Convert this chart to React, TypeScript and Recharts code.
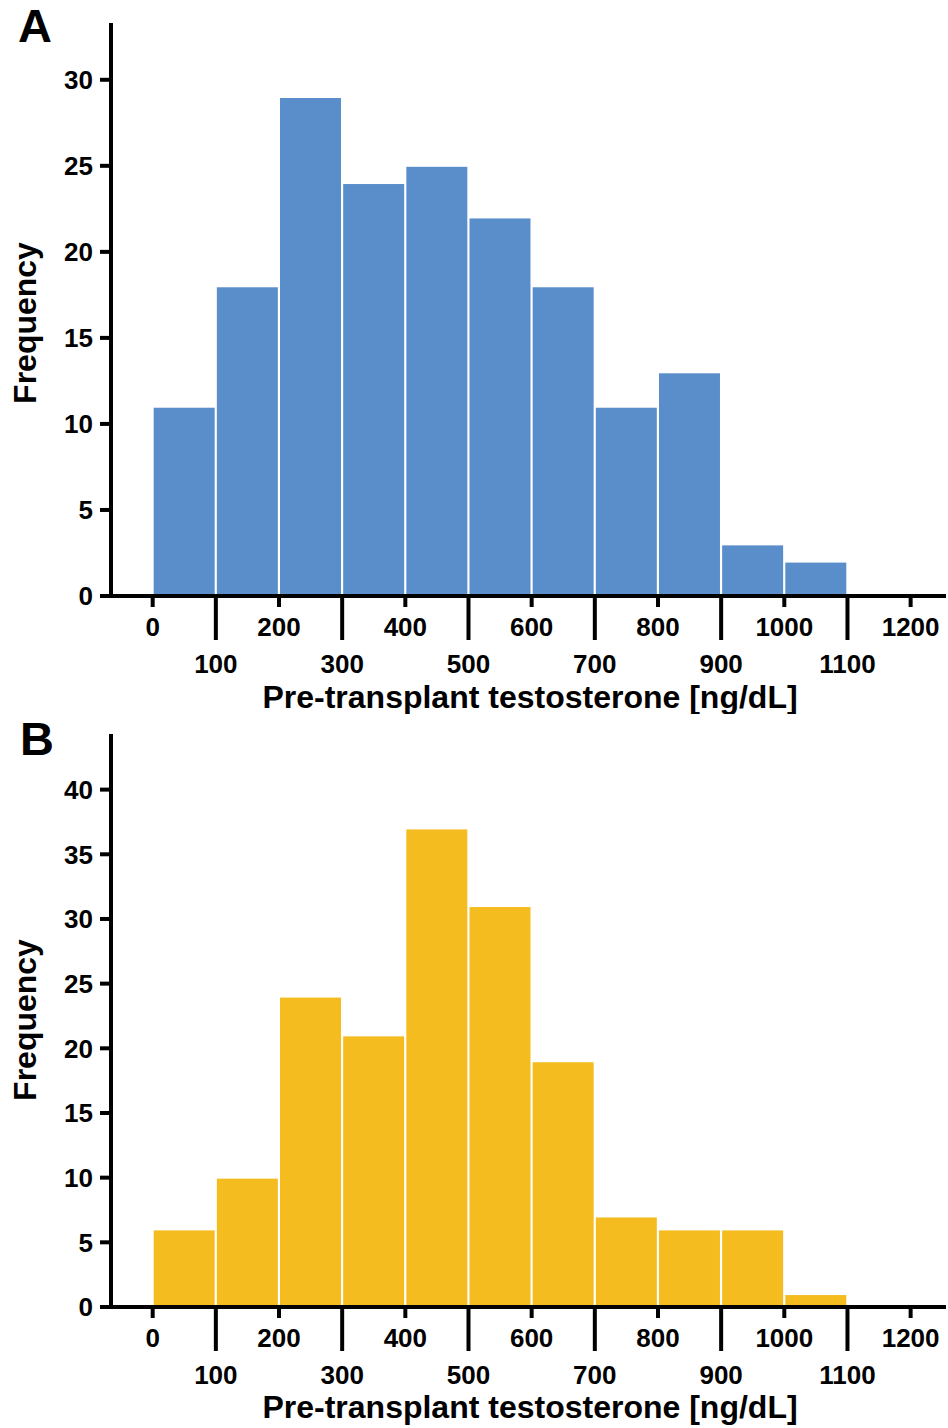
import React from "react";
import { BarChart, Bar, XAxis, YAxis, Label } from "recharts";

// histogram bins, 100 ng/dL wide
const binMids = [50, 150, 250, 350, 450, 550, 650, 750, 850, 950, 1050];
const countsA = [11, 18, 29, 24, 25, 22, 18, 11, 13, 3, 2];
const countsB = [6, 10, 24, 21, 37, 31, 19, 7, 6, 6, 1];

const xTicks = [0, 100, 200, 300, 400, 500, 600, 700, 800, 900, 1000, 1100, 1200];
const yTicksA = [0, 5, 10, 15, 20, 25, 30];
const yTicksB = [0, 5, 10, 15, 20, 25, 30, 35, 40];

const FONT = '"Liberation Sans", Arial, Helvetica, sans-serif';
const AXIS_TITLE = "Pre-transplant testosterone [ng/dL]";

const XTick = (props: any) => {
  const { x, y, payload } = props;
  const v = payload.value;
  const odd = Math.round(v / 100) % 2 === 1;
  return (
    <g>
      <line x1={x} x2={x} y1={y} y2={y + (odd ? 44 : 11)} stroke="#000" strokeWidth={4} />
      <text
        x={x}
        y={y + (odd ? 77 : 40)}
        textAnchor="middle"
        fontFamily={FONT}
        fontWeight={700}
        fontSize={26}
        fill="#000"
      >
        {v}
      </text>
    </g>
  );
};

const BinRect = (props: any) => {
  const { x, y, width, height, fill } = props;
  if (!height || height <= 0) return null;
  return (
    <rect
      x={x + 1}
      y={y + 1}
      width={Math.max(width - 2, 0)}
      height={Math.max(height - 3, 0)}
      fill={fill}
    />
  );
};

interface PanelProps {
  counts: number[];
  color: string;
  yMax: number;
  yTicks: number[];
  top: number;
  xAxisHeight: number;
  titleBaseline: number;
  freqCenter: number;
}

const Panel = ({
  counts,
  color,
  yMax,
  yTicks,
  top,
  xAxisHeight,
  titleBaseline,
  freqCenter,
}: PanelProps) => {
  const data = binMids.map((mid, i) => ({ mid, count: counts[i] }));
  return (
    <BarChart
      width={948}
      height={714}
      data={data}
      margin={{ top, right: 2, bottom: 0, left: 0 }}
      barCategoryGap={0}
      barGap={0}
    >
      <Bar
        dataKey="count"
        fill={color}
        isAnimationActive={false}
        shape={BinRect}
      />
      <XAxis
        dataKey="mid"
        type="number"
        domain={[-66, 1256]}
        ticks={xTicks}
        interval={0}
        allowDataOverflow
        height={xAxisHeight}
        tickSize={0}
        tickMargin={0}
        tickLine={false}
        axisLine={{ stroke: "#000", strokeWidth: 4 }}
        tick={<XTick />}
      >
        <Label
          content={() => (
            <text
              x={530}
              y={titleBaseline}
              textAnchor="middle"
              fontFamily={FONT}
              fontWeight={700}
              fontSize={32}
              fill="#000"
            >
              {AXIS_TITLE}
            </text>
          )}
        />
      </XAxis>
      <YAxis
        type="number"
        domain={[0, yMax]}
        ticks={yTicks}
        interval={0}
        allowDataOverflow
        width={111}
        tickSize={11}
        tickMargin={7}
        axisLine={{ stroke: "#000", strokeWidth: 4 }}
        tickLine={{ stroke: "#000", strokeWidth: 4 }}
        tick={{ fill: "#000", fontSize: 26, fontWeight: 700, fontFamily: FONT }}
      >
        <Label
          content={() => (
            <text
              x={36}
              y={freqCenter}
              transform={`rotate(-90 36 ${freqCenter})`}
              textAnchor="middle"
              fontFamily={FONT}
              fontWeight={700}
              fontSize={32}
              fill="#000"
            >
              Frequency
            </text>
          )}
        />
      </YAxis>
    </BarChart>
  );
};

export default function App() {
  return (
    <div
      style={{
        position: "absolute",
        left: 0,
        top: 0,
        width: 948,
        height: 1428,
        background: "#fff",
      }}
    >
      <Panel
        counts={countsA}
        color="#5A8ECB"
        yMax={33.3}
        yTicks={yTicksA}
        top={23}
        xAxisHeight={118}
        titleBaseline={708}
        freqCenter={323}
      />
      <Panel
        counts={countsB}
        color="#F5BC1F"
        yMax={44.3}
        yTicks={yTicksB}
        top={20}
        xAxisHeight={121}
        titleBaseline={704}
        freqCenter={306}
      />
      {/* panel letters */}
      <svg
        width={948}
        height={1428}
        style={{ position: "absolute", left: 0, top: 0, pointerEvents: "none" }}
      >
        <text x={18} y={42} fontFamily={FONT} fontWeight={700} fontSize={47} fill="#000">
          A
        </text>
        <text x={20} y={755} fontFamily={FONT} fontWeight={700} fontSize={47} fill="#000">
          B
        </text>
      </svg>
    </div>
  );
}
